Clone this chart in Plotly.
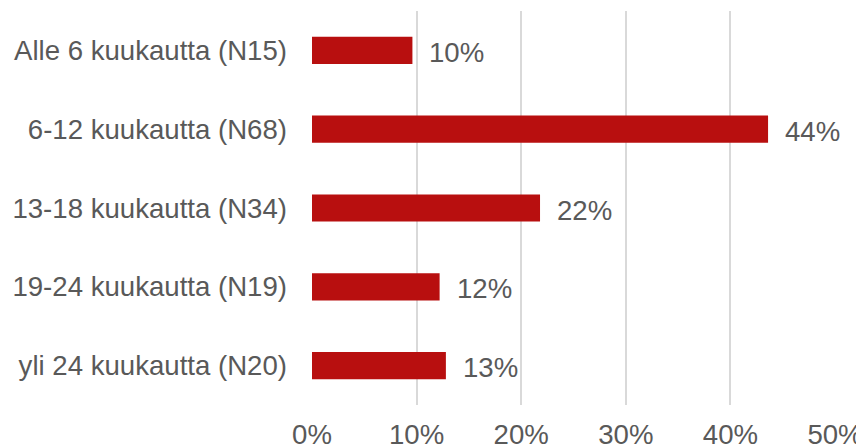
import plotly.graph_objects as go

categories = ["Alle 6 kuukautta (N15)", "6-12 kuukautta (N68)", "13-18 kuukautta (N34)",
              "19-24 kuukautta (N19)", "yli 24 kuukautta (N20)"]
values = [0.096, 0.436, 0.218, 0.122, 0.128]
labels = ["10%", "44%", "22%", "12%", "13%"]
x_ticks = [0, 0.1, 0.2, 0.3, 0.4, 0.5]
x_ticklabels = ["0%", "10%", "20%", "30%", "40%", "50%"]

FONT = "Liberation Sans, Arial, sans-serif"
GREY = "#595959"
FS = 27.6

fig = go.Figure(go.Bar(
    x=values, y=categories, orientation="h",
    marker=dict(color="#B80F0F", line=dict(width=0)),
    width=0.345,
))

for v, c, t in zip(values, categories, labels):
    fig.add_annotation(x=v, y=c, text=t, showarrow=False, xanchor="left",
                       xshift=15, yshift=-2, font=dict(size=FS, color=GREY, family=FONT))

fig.update_layout(
    width=864, height=446,
    margin=dict(l=304, r=37, t=3, b=49, autoexpand=False),
    paper_bgcolor="white", plot_bgcolor="white",
    showlegend=False,
    font=dict(family=FONT, size=FS, color=GREY),
    xaxis=dict(range=[0, 0.5], tickvals=x_ticks, ticktext=x_ticklabels,
               showgrid=True, gridcolor="#D9D9D9", gridwidth=1.5,
               zeroline=False, showline=False, ticks="", automargin=False,
               ticklabelstandoff=10,
               tickfont=dict(size=FS, color=GREY, family=FONT)),
    yaxis=dict(autorange="reversed", showgrid=False, zeroline=False, showline=False,
               ticks="", ticklabelstandoff=24, automargin=False,
               tickfont=dict(size=FS, color=GREY, family=FONT)),
)

fig.write_html("out.html")
